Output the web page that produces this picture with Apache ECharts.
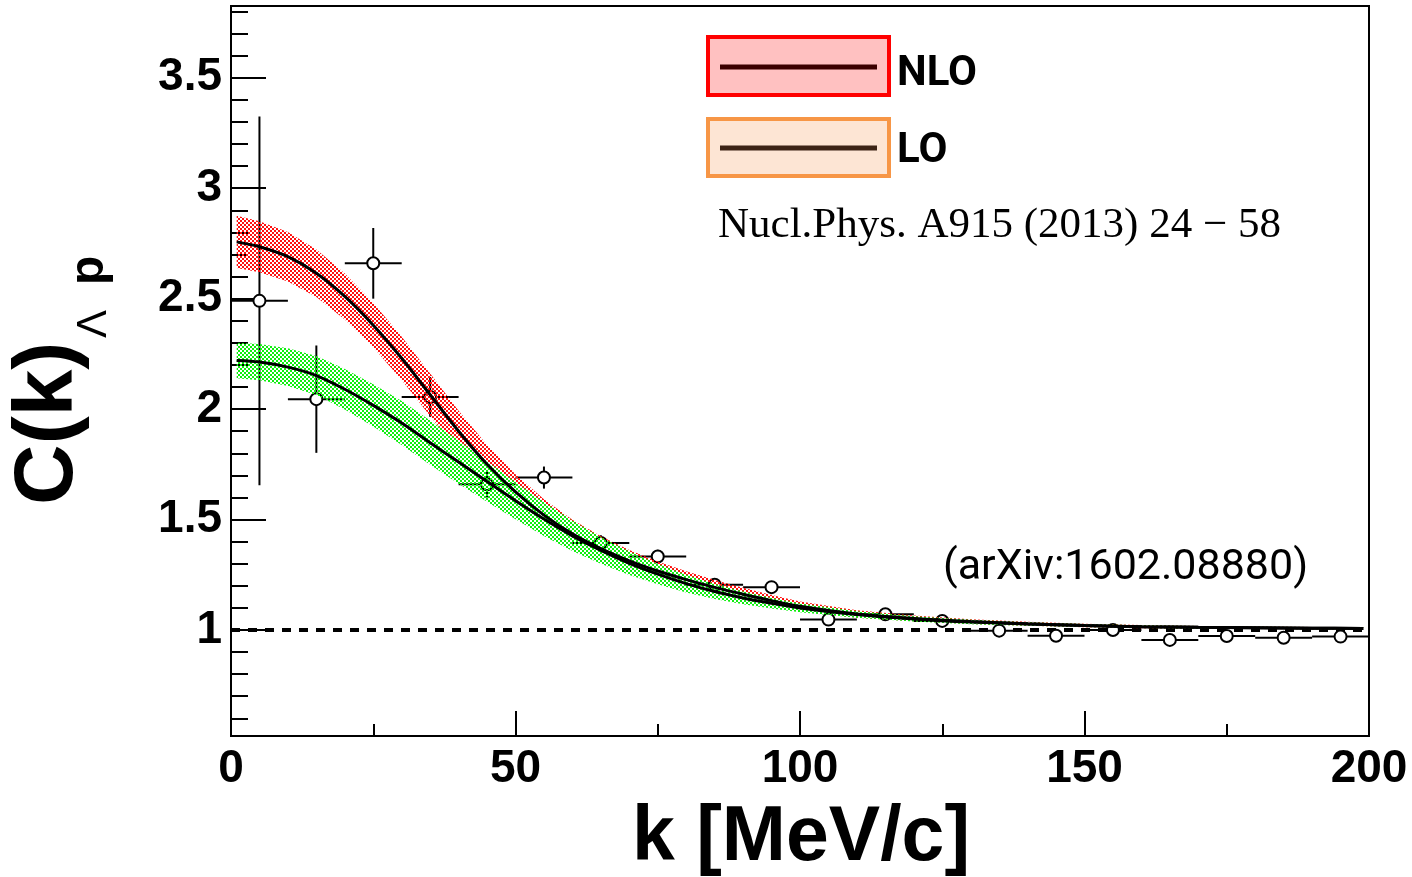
<!DOCTYPE html>
<html>
<head>
<meta charset="utf-8">
<script src="https://cdn.jsdelivr.net/npm/echarts@6/dist/echarts.min.js"></script>
<style>
html,body{margin:0;padding:0;background:#fff;}
#chart{width:1412px;height:877px;}
</style>
</head>
<body>
<div id="chart"></div>
<script>
// ---- curve grid (k in MeV/c) ----
const curveK = [1, 5, 10, 15, 20, 25, 30, 35, 40, 45, 50, 55, 60, 65, 70, 75, 80, 85, 90, 95, 100, 110, 120, 130, 140, 150, 160, 170, 180, 190, 199];
// NLO prediction (central line, band edges)
const nloMid  = [2.757, 2.735, 2.69, 2.615, 2.51, 2.38, 2.23, 2.065, 1.9, 1.75, 1.625, 1.52, 1.435, 1.368, 1.313, 1.267, 1.228, 1.193, 1.162, 1.133, 1.107, 1.072, 1.052, 1.038, 1.028, 1.02, 1.015, 1.012, 1.010, 1.008, 1.007];
const nloLow  = [2.639, 2.62, 2.578, 2.507, 2.406, 2.28, 2.132, 1.969, 1.808, 1.663, 1.545, 1.448, 1.371, 1.312, 1.264, 1.224, 1.19, 1.16, 1.133, 1.108, 1.085, 1.055, 1.039, 1.027, 1.019, 1.012, 1.008, 1.006, 1.004, 1.003, 1.002];
const nloHigh = [2.875, 2.85, 2.802, 2.723, 2.614, 2.48, 2.328, 2.161, 1.992, 1.837, 1.705, 1.592, 1.499, 1.424, 1.362, 1.31, 1.266, 1.226, 1.191, 1.158, 1.129, 1.089, 1.065, 1.049, 1.037, 1.028, 1.022, 1.018, 1.016, 1.013, 1.012];
// LO prediction
const loMid  = [2.22, 2.213, 2.19, 2.152, 2.09, 2.017, 1.937, 1.848, 1.76, 1.672, 1.585, 1.502, 1.426, 1.36, 1.302, 1.253, 1.21, 1.174, 1.145, 1.121, 1.10, 1.07, 1.05, 1.036, 1.027, 1.02, 1.015, 1.012, 1.01, 1.008, 1.007];
const loLow  = [2.14, 2.131, 2.105, 2.064, 1.998, 1.921, 1.837, 1.748, 1.662, 1.58, 1.501, 1.426, 1.358, 1.30, 1.249, 1.207, 1.17, 1.14, 1.116, 1.097, 1.08, 1.055, 1.038, 1.026, 1.019, 1.013, 1.009, 1.006, 1.005, 1.003, 1.002];
const loHigh = [2.30, 2.295, 2.275, 2.24, 2.182, 2.113, 2.037, 1.948, 1.858, 1.764, 1.669, 1.578, 1.494, 1.42, 1.355, 1.299, 1.25, 1.208, 1.174, 1.145, 1.12, 1.085, 1.062, 1.046, 1.035, 1.027, 1.021, 1.018, 1.015, 1.013, 1.012];
// measured correlation function
const dataK    = [5, 15, 25, 35, 45, 55, 65, 75, 85, 95, 105, 115, 125, 135, 145, 155, 165, 175, 185, 195];
const dataC    = [2.49, 2.045, 2.66, 2.055, 1.66, 1.69, 1.394, 1.333, 1.205, 1.194, 1.047, 1.071, 1.041, 0.997, 0.974, 1.0, 0.955, 0.973, 0.965, 0.97];
const dataErr  = [0.835, 0.243, 0.16, 0.09, 0.06, 0.05, 0.035, 0.03, 0.025, 0.025, 0.02, 0.02, 0.02, 0.02, 0.02, 0.02, 0.02, 0.02, 0.02, 0.02];
const dataKErr = [5, 5, 5, 5, 5, 5, 5, 5, 5, 5, 5, 5, 5, 5, 5, 5, 5, 5, 5, 5];
// reference line C = 1
const refK = [0, 200];
const refC = [1, 1];
// axis ticks
const yMajorTicks = [1, 1.5, 2, 2.5, 3, 3.5];
const yMinorTicks = [0.6, 0.7, 0.8, 0.9, 1.1, 1.2, 1.3, 1.4, 1.6, 1.7, 1.8, 1.9, 2.1, 2.2, 2.3, 2.4, 2.6, 2.7, 2.8, 2.9, 3.1, 3.2, 3.3, 3.4, 3.6, 3.7, 3.8];

function makePattern(color) {
  const c = document.createElement('canvas');
  c.width = 4; c.height = 4;
  const ctx = c.getContext('2d');
  ctx.fillStyle = color;
  ctx.fillRect(0, 0, 2, 2);
  ctx.fillRect(2, 2, 2, 2);
  return { image: c, repeat: 'repeat' };
}

function bandRenderer(lo, hi, fill) {
  return function (params, api) {
    const pts = [];
    for (let i = 0; i < curveK.length; i++) pts.push(api.coord([curveK[i], hi[i]]));
    for (let i = curveK.length - 1; i >= 0; i--) pts.push(api.coord([curveK[i], lo[i]]));
    return { type: 'polygon', shape: { points: pts }, style: { fill: fill } };
  };
}

function pointRenderer(params, api) {
  const k = api.value(0), c = api.value(1), e = api.value(2), dk = api.value(3);
  const p = api.coord([k, c]);
  const l = api.coord([k - dk, c]), r = api.coord([k + dk, c]);
  const t = api.coord([k, c + e]), b = api.coord([k, c - e]);
  return {
    type: 'group',
    children: [
      { type: 'line', shape: { x1: l[0], y1: l[1], x2: r[0], y2: r[1] }, style: { stroke: '#000', lineWidth: 2 } },
      { type: 'line', shape: { x1: t[0], y1: t[1], x2: b[0], y2: b[1] }, style: { stroke: '#000', lineWidth: 2 } },
      { type: 'circle', shape: { cx: p[0], cy: p[1], r: 6 }, style: { fill: '#fff', stroke: '#000', lineWidth: 2 } }
    ]
  };
}

const chart = echarts.init(document.getElementById('chart'), null, { renderer: 'canvas' });
const tickFont = { fontFamily: 'Liberation Sans, Arial, sans-serif', fontWeight: 'bold', fontSize: 46, color: '#000' };

const option = {
  animation: false,
  backgroundColor: '#fff',
  grid: { left: 231, right: 43, top: 6, bottom: 141, show: true, borderColor: '#000', borderWidth: 2, backgroundColor: 'transparent' },
  xAxis: {
    type: 'value', min: 0, max: 200, interval: 50,
    axisLine: { show: true, lineStyle: { color: '#000', width: 2 } },
    axisTick: { show: true, inside: true, length: 25, lineStyle: { color: '#000', width: 2 } },
    minorTick: { show: true, splitNumber: 2, length: 12, lineStyle: { color: '#000', width: 2 } },
    axisLabel: Object.assign({ margin: 10 }, tickFont),
    splitLine: { show: false }
  },
  yAxis: [
    {
      type: 'value', min: 0.52, max: 3.825, position: 'left',
      axisLine: { show: true, lineStyle: { color: '#000', width: 2 } },
      axisTick: { show: true, inside: true, length: 35, customValues: yMajorTicks, lineStyle: { color: '#000', width: 2 } },
      axisLabel: Object.assign({ margin: 9, customValues: yMajorTicks }, tickFont),
      splitLine: { show: false }
    },
    {
      type: 'value', min: 0.52, max: 3.825, position: 'left', offset: 0,
      axisLine: { show: false },
      axisTick: { show: true, inside: true, length: 17, customValues: yMinorTicks, lineStyle: { color: '#000', width: 2 } },
      axisLabel: { show: false },
      splitLine: { show: false }
    }
  ],
  series: [
    {
      type: 'line', z: 1, data: refK.map((k, i) => [k, refC[i]]), showSymbol: false, silent: true,
      lineStyle: { color: '#000', width: 4, type: [9, 8] }
    },
    {
      type: 'custom', z: 2, renderItem: pointRenderer, clip: true,
      data: dataK.map((k, i) => [k, dataC[i], dataErr[i], dataKErr[i]])
    },
    {
      type: 'custom', z: 3, clip: true, renderItem: bandRenderer(nloLow, nloHigh, makePattern('#ff1010')),
      data: [[curveK[0], nloMid[0]]]
    },
    {
      type: 'custom', z: 3, clip: true, renderItem: bandRenderer(loLow, loHigh, makePattern('#10ee10')),
      data: [[curveK[0], loMid[0]]]
    },
    {
      type: 'line', z: 4, data: curveK.map((k, i) => [k, nloMid[i]]), showSymbol: false, smooth: 0.3,
      lineStyle: { color: '#000', width: 3 }
    },
    {
      type: 'line', z: 4, data: curveK.map((k, i) => [k, loMid[i]]), showSymbol: false, smooth: 0.3,
      lineStyle: { color: '#000', width: 3 }
    }
  ],
  graphic: [
    // legend boxes
    { type: 'rect', shape: { x: 708, y: 37, width: 181, height: 58 }, style: { fill: '#ffc1c1', stroke: '#ff0000', lineWidth: 4 }, z: 10 },
    { type: 'line', shape: { x1: 720, y1: 67, x2: 877, y2: 67 }, style: { stroke: '#3b0000', lineWidth: 5 }, z: 11 },
    { type: 'rect', shape: { x: 708, y: 119, width: 181, height: 57 }, style: { fill: '#fde5d4', stroke: '#f79646', lineWidth: 4 }, z: 10 },
    { type: 'line', shape: { x1: 720, y1: 148, x2: 877, y2: 148 }, style: { stroke: '#3c2315', lineWidth: 5 }, z: 11 },
    { type: 'text', x: 897, y: 74, z: 11, style: { text: 'NLO', font: 'bold 42px Roboto, sans-serif', fill: '#000', textAlign: 'left', textVerticalAlign: 'middle' } },
    { type: 'text', x: 897, y: 151, z: 11, style: { text: 'LO', font: 'bold 42px Roboto, sans-serif', fill: '#000', textAlign: 'left', textVerticalAlign: 'middle' } },
    { type: 'text', x: 718, y: 226, z: 11, style: { text: 'Nucl.Phys. A915 (2013) 24 \u2212 58', font: '43px "Liberation Serif", serif', fill: '#000', textAlign: 'left', textVerticalAlign: 'middle' } },
    { type: 'text', x: 943, y: 568, z: 11, style: { text: '(arXiv:1602.08880)', font: '43px Roboto, sans-serif', fill: '#000', textAlign: 'left', textVerticalAlign: 'middle' } },
    // axis titles
    { type: 'text', x: 801, y: 839, z: 11, style: { text: 'k [MeV/c]', font: 'bold 77px "Liberation Sans", Arial, sans-serif', fill: '#000', textAlign: 'center', textVerticalAlign: 'middle' } },
    { type: 'text', x: 49, y: 505, rotation: Math.PI / 2, z: 11, style: { text: 'C(k)', font: 'bold 84px "Liberation Sans", Arial, sans-serif', fill: '#000', textAlign: 'left', textVerticalAlign: 'middle' } },
    { type: 'text', x: 94, y: 338, rotation: Math.PI / 2, z: 11, style: { text: '\u039B', font: '42px "Liberation Sans", Arial, sans-serif', fill: '#000', textAlign: 'left', textVerticalAlign: 'middle' } },
    { type: 'text', x: 90, y: 285, rotation: Math.PI / 2, z: 11, style: { text: 'p', font: 'bold 48px "Liberation Sans", Arial, sans-serif', fill: '#000', textAlign: 'left', textVerticalAlign: 'middle' } }
  ]
};
chart.setOption(option);
</script>
</body>
</html>
